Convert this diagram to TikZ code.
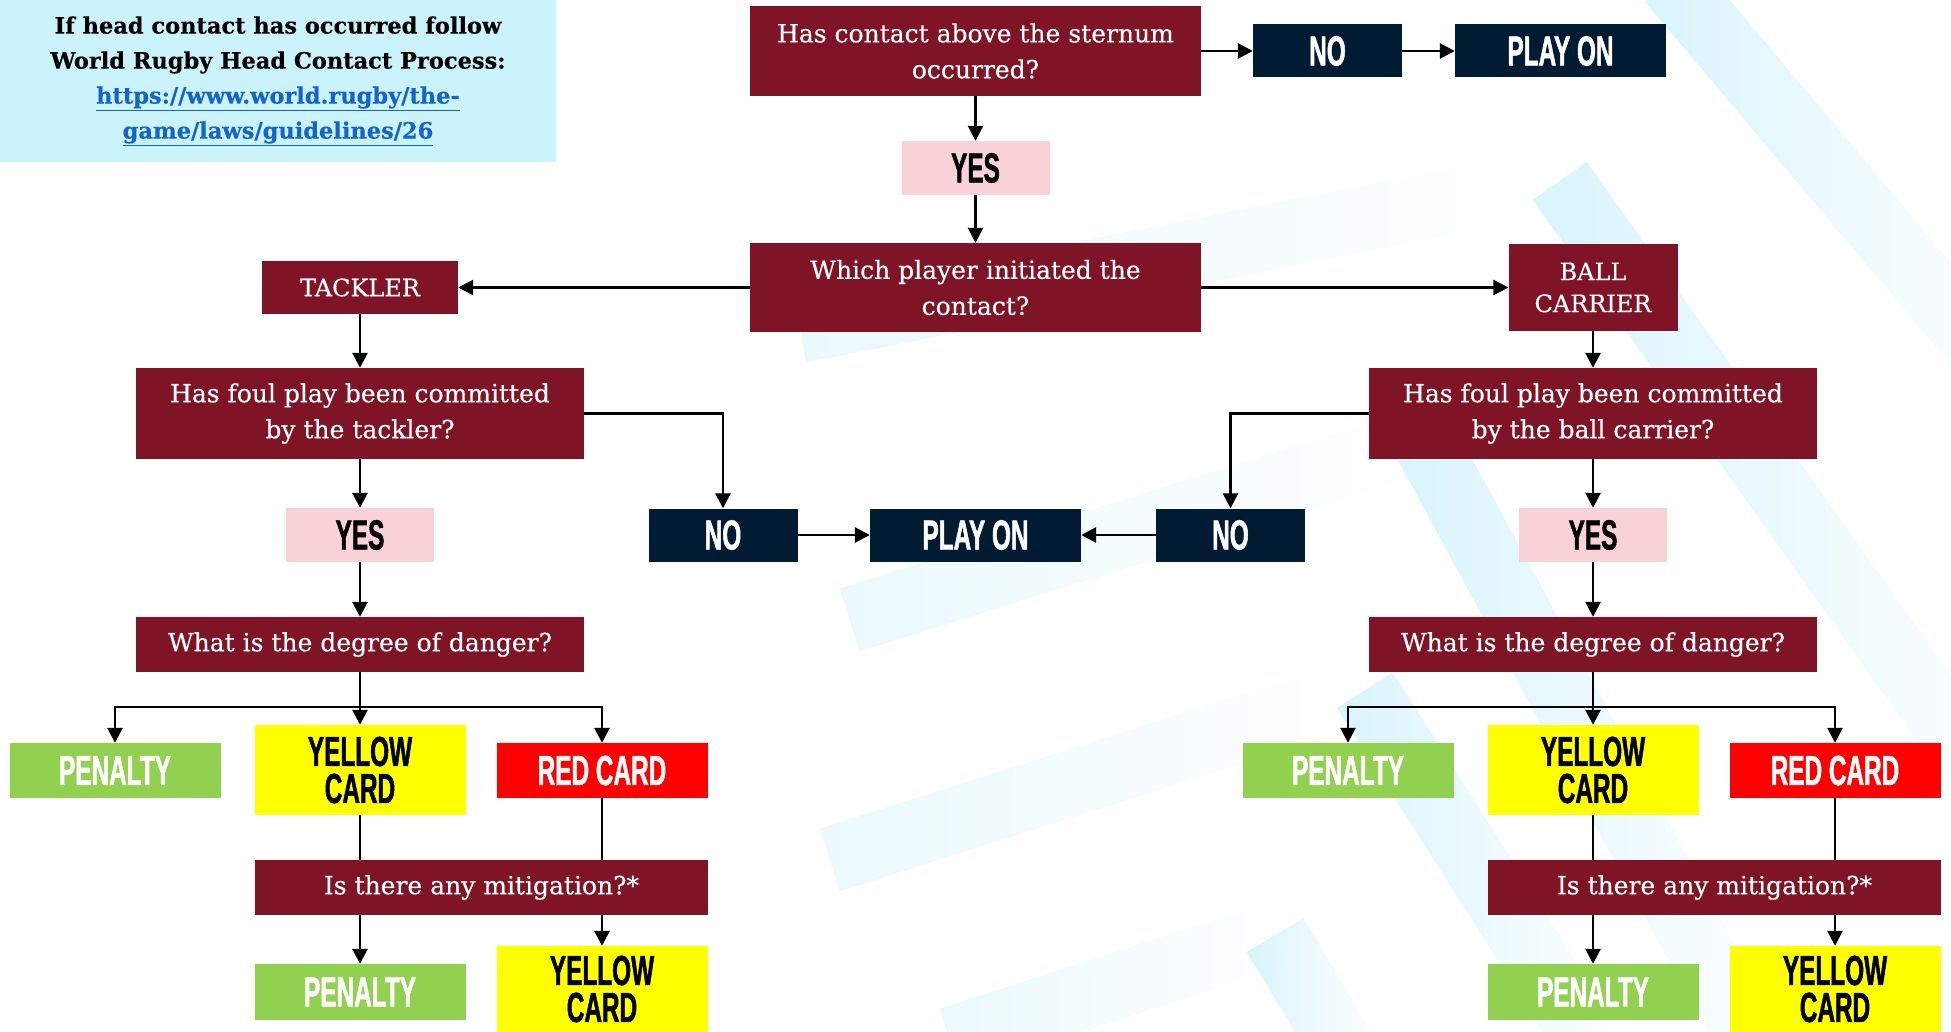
\documentclass[tikz,border=0pt]{standalone}
\usepackage{fontspec}
\usetikzlibrary{arrows.meta}
\usetikzlibrary{fadings}
\newfontfamily\qfont{DejaVu Serif}[FakeBold = 0.4]
\newfontfamily\cardfont{Liberation Sans}[FakeStretch = 0.58, FakeBold = 1.2]
\definecolor{maroon}{RGB}{126,20,38}
\definecolor{navy}{RGB}{1,27,51}
\definecolor{yesPink}{RGB}{249,210,215}
\definecolor{penGreen}{RGB}{146,208,80}
\definecolor{cardYellow}{RGB}{255,255,0}
\definecolor{cardRed}{RGB}{255,0,0}
\definecolor{infoBlue}{RGB}{203,243,251}
\definecolor{linkBlue}{RGB}{21,101,200}
\definecolor{stripeLight}{RGB}{234,249,253}
\definecolor{stripeDark}{RGB}{216,244,252}

\begin{document}
\begin{tikzpicture}[x = 1pt, y = -1pt]
	\tikzstyle{boxStyle} = [rectangle, inner sep = 0pt, align = center]
	\tikzstyle{questionStyle} = [boxStyle, fill = maroon, text = white, minimum width = 448pt, font = \qfont\fontsize{25}{36}\selectfont]
	\tikzstyle{cardStyle} = [boxStyle, font = \cardfont\bfseries\fontsize{42}{37}\selectfont]
	\tikzstyle{noStyle} = [cardStyle, fill = navy, text = white, minimum width = 149pt, minimum height = 53pt]
	\tikzstyle{playStyle} = [cardStyle, fill = navy, text = white, minimum width = 211pt, minimum height = 53pt]
	\tikzstyle{yesStyle} = [cardStyle, fill = yesPink, text = black, minimum width = 148pt, minimum height = 54pt]
	\tikzstyle{penaltyStyle} = [cardStyle, fill = penGreen, text = white, minimum width = 211pt, minimum height = 55pt]
	\tikzstyle{yellowStyle} = [cardStyle, fill = cardYellow, text = black, minimum width = 211pt, minimum height = 90pt]
	\tikzstyle{redStyle} = [cardStyle, fill = cardRed, text = white, minimum width = 211pt, minimum height = 55pt]
	\tikzstyle{EdgeStyle} = [line width = 2.7pt, -{Triangle[length = 15pt, width = 15pt]}]
	\tikzstyle{LineStyle} = [line width = 2.7pt]
	\tikzstyle{stripeStyle} = [line width = 66pt, line cap = butt, path fading = east]
	\useasboundingbox (0, 0) rectangle (1951, 1032);
	% background stripes
	\begin{scope}
		\clip (0, 0) rectangle (1951, 1032);
		\draw[stripeStyle, stripeLight] (800, 330) -- (1560, 180);
		\draw[stripeStyle, stripeLight] (850, 620) -- (1425, 440);
		\draw[stripeStyle, stripeLight] (830, 860) -- (1365, 690);
		\draw[stripeStyle, stripeLight] (950, 1040) -- (1275, 935);
		\draw[stripeStyle, stripeDark] (1670, -20) -- (1990, 360);
		\draw[stripeStyle, stripeDark] (1560, 180) -- (2000, 800);
		\draw[stripeStyle, stripeDark] (1425, 440) -- (1760, 1060);
		\draw[stripeStyle, stripeDark] (1365, 690) -- (1600, 1060);
		\draw[stripeStyle, stripeDark] (1275, 935) -- (1350, 1060);
	\end{scope}
	\node[boxStyle, fill = infoBlue, minimum width = 556pt, minimum height = 162pt, font = \qfont\bfseries\fontsize{22.5}{35}\selectfont] (info) at (278, 81) {If head contact has occurred follow\\World Rugby Head Contact Process:\\{\color{linkBlue}\underline{https://www.world.rugby/the-}}\\{\color{linkBlue}\underline{game/laws/guidelines/26}}};
	\node[questionStyle, minimum width = 451pt, minimum height = 90pt] (q0) at (975.5, 51) {Has contact above the sternum\\occurred?};
	\node[noStyle] (no0) at (1327.5, 51) {NO};
	\node[playStyle] (play0) at (1560.5, 51) {PLAY ON};
	\node[yesStyle] (yes0) at (975.5, 168) {YES};
	\node[questionStyle, minimum width = 451pt, minimum height = 89pt] (q1) at (975.5, 287.5) {Which player initiated the\\contact?};
	\node[questionStyle, minimum width = 196pt, minimum height = 53pt, font = \qfont\fontsize{24}{32}\selectfont] (tackler) at (360, 287.5) {TACKLER};
	\node[questionStyle, minimum width = 169pt, minimum height = 87pt, font = \qfont\fontsize{24}{32}\selectfont] (carrier) at (1593, 287.5) {BALL\\CARRIER};
	\node[questionStyle, minimum height = 91pt] (q2l) at (360, 413.5) {Has foul play been committed\\by the tackler?};
	\node[questionStyle, minimum height = 91pt] (q2r) at (1593, 413.5) {Has foul play been committed\\by the ball carrier?};
	\node[yesStyle] (yes1) at (360, 535) {YES};
	\node[noStyle] (no1) at (723, 535) {NO};
	\node[playStyle] (play1) at (975.5, 535) {PLAY ON};
	\node[noStyle] (no2) at (1230.5, 535) {NO};
	\node[yesStyle] (yes2) at (1593, 535) {YES};
	\node[questionStyle, minimum height = 55pt] (q3l) at (360, 644.5) {What is the degree of danger?};
	\node[questionStyle, minimum height = 55pt] (q3r) at (1593, 644.5) {What is the degree of danger?};
	\coordinate (s1) at (360, 707);
	\coordinate (s2) at (1593, 707);
	% left outcomes
	\node[penaltyStyle] (pen1) at (115, 770.5) {PENALTY};
	\node[yellowStyle] (yel1) at (360, 770) {YELLOW\\CARD};
	\node[redStyle] (red1) at (602, 770.5) {RED CARD};
	\node[questionStyle, minimum width = 453pt, minimum height = 55pt] (q4l) at (481.5, 887.5) {Is there any mitigation?*};
	\node[penaltyStyle, minimum height = 56pt] (pen2) at (360, 992) {PENALTY};
	\node[yellowStyle, minimum height = 86pt] (yel2) at (602, 989) {YELLOW\\CARD};
	% right outcomes
	\node[penaltyStyle] (pen3) at (1348, 770.5) {PENALTY};
	\node[yellowStyle] (yel3) at (1593, 770) {YELLOW\\CARD};
	\node[redStyle] (red3) at (1835, 770.5) {RED CARD};
	\node[questionStyle, minimum width = 453pt, minimum height = 55pt] (q4r) at (1714.5, 887.5) {Is there any mitigation?*};
	\node[penaltyStyle, minimum height = 56pt] (pen4) at (1593, 992) {PENALTY};
	\node[yellowStyle, minimum height = 86pt] (yel4) at (1835, 989) {YELLOW\\CARD};
	\draw[EdgeStyle] (q0) -- (no0);
	\draw[EdgeStyle] (no0) -- (play0);
	\draw[EdgeStyle] (q0) -- (yes0);
	\draw[EdgeStyle] (yes0) -- (q1);
	\draw[EdgeStyle] (q1) -- (tackler);
	\draw[EdgeStyle] (q1) -- (carrier);
	\draw[EdgeStyle] (tackler) -- (q2l);
	\draw[EdgeStyle] (carrier) -- (q2r);
	\draw[EdgeStyle] (q2l) -| (no1);
	\draw[EdgeStyle] (q2r) -| (no2);
	\draw[EdgeStyle] (no1) -- (play1);
	\draw[EdgeStyle] (no2) -- (play1);
	\draw[EdgeStyle] (q2l) -- (yes1);
	\draw[EdgeStyle] (yes1) -- (q3l);
	\draw[EdgeStyle] (q2r) -- (yes2);
	\draw[EdgeStyle] (yes2) -- (q3r);
	\draw[EdgeStyle] (q3l) -- (yel1);
	\draw[EdgeStyle] (s1) -| (pen1);
	\draw[EdgeStyle] (s1) -| (red1);
	\draw[LineStyle] (yel1) -- (yel1 |- q4l.north);
	\draw[LineStyle] (red1) -- (red1 |- q4l.north);
	\draw[EdgeStyle] (pen2 |- q4l.south) -- (pen2);
	\draw[EdgeStyle] (yel2 |- q4l.south) -- (yel2);
	\draw[EdgeStyle] (q3r) -- (yel3);
	\draw[EdgeStyle] (s2) -| (pen3);
	\draw[EdgeStyle] (s2) -| (red3);
	\draw[LineStyle] (yel3) -- (yel3 |- q4r.north);
	\draw[LineStyle] (red3) -- (red3 |- q4r.north);
	\draw[EdgeStyle] (pen4 |- q4r.south) -- (pen4);
	\draw[EdgeStyle] (yel4 |- q4r.south) -- (yel4);
\end{tikzpicture}
\end{document}
